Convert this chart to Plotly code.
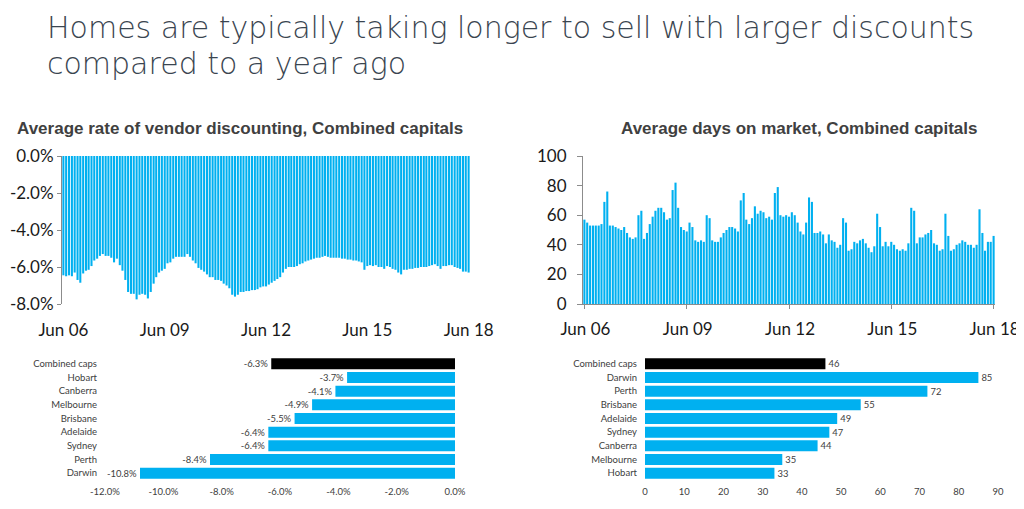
import plotly.graph_objects as go
import pandas as pd

# ---------------- data ----------------
months = pd.date_range("2006-06-01", periods=145, freq="MS")

discount = [
    -6.45, -6.5, -6.45, -6.5, -6.3, -6.7, -6.85, -6.35, -6.2, -6.15,
    -5.95, -5.65, -5.55, -5.4, -5.3, -5.4, -5.4, -5.5, -5.75, -5.55,
    -5.9, -6.2, -6.7, -7.35, -7.45, -7.45, -7.75, -7.5, -7.45, -7.5,
    -7.7, -7.35, -6.9, -6.55, -6.3, -6.2, -6.1, -5.8, -5.75, -5.55,
    -5.45, -5.45, -5.45, -5.45, -5.3, -5.45, -5.65, -5.8, -6.05, -6.15,
    -6.25, -6.4, -6.55, -6.55, -6.7, -6.7, -6.75, -6.9, -7.0, -7.15,
    -7.5, -7.6, -7.5, -7.35, -7.35, -7.3, -7.3, -7.25, -7.25, -7.2,
    -7.1, -7.05, -7.05, -6.95, -6.85, -6.75, -6.65, -6.55, -6.3, -6.1,
    -6.0, -6.0, -6.0, -5.95, -5.85, -5.8, -5.7, -5.65, -5.6, -5.55,
    -5.5, -5.5, -5.45, -5.4, -5.45, -5.5, -5.5, -5.5, -5.5, -5.55,
    -5.55, -5.6, -5.6, -5.65, -5.65, -5.7, -5.75, -6.15, -5.95, -5.9,
    -5.95, -5.9, -6.0, -6.0, -6.1, -5.95, -6.0, -6.1, -6.15, -6.3,
    -6.4, -6.15, -6.15, -6.1, -6.1, -6.05, -6.05, -6.0, -6.0, -6.0,
    -5.95, -5.9, -5.85, -5.95, -6.1, -5.95, -5.95, -5.9, -5.9, -6.0,
    -6.05, -6.1, -6.25, -6.25, -6.3,
]

days = [
    57, 55, 53, 53, 53, 53, 54,
    69, 76,
    53, 53, 52, 51, 50, 52, 48, 45, 44, 45,
    60, 63,
    44, 48, 54, 59, 63, 65, 65, 62, 57, 58,
    77, 82,
    65, 52, 50, 49, 55, 52, 43, 42, 43, 42,
    60, 58,
    43, 42, 42, 45, 48, 50, 52, 52, 51, 49,
    70, 75,
    57, 54, 58, 66, 61, 63, 62, 58, 59, 57,
    75, 79,
    60, 59, 60, 59, 62, 60, 55, 49, 47, 55,
    72, 69,
    48, 48, 49, 47, 41, 47, 43, 42, 38, 40,
    58, 55,
    36, 37, 42, 41, 43, 44, 41, 38, 35, 39,
    61, 52,
    39, 42, 39, 42, 40, 37, 36, 37, 36, 41,
    65, 63,
    41, 45, 45, 47, 48, 50, 41, 40, 36, 37,
    61, 46,
    36, 37, 40, 41, 43, 42, 40, 40, 38, 40,
    64, 48,
    36, 42, 42, 46,
]

x_tick_dates = ["2006-06-01", "2009-06-01", "2012-06-01", "2015-06-01", "2018-06-01"]
x_tick_labels = ["Jun 06", "Jun 09", "Jun 12", "Jun 15", "Jun 18"]

disc_tick_vals = [0, -2, -4, -6, -8]
disc_tick_labels = ["0.0%", "-2.0%", "-4.0%", "-6.0%", "-8.0%"]
days_tick_vals = [0, 20, 40, 60, 80, 100]

city_disc = ["Combined caps", "Hobart", "Canberra", "Melbourne", "Brisbane",
             "Adelaide", "Sydney", "Perth", "Darwin"]
city_disc_vals = [-6.3, -3.7, -4.1, -4.9, -5.5, -6.4, -6.4, -8.4, -10.8]
disc_bar_tick_vals = [-12, -10, -8, -6, -4, -2, 0]
disc_bar_tick_labels = ["-12.0%", "-10.0%", "-8.0%", "-6.0%", "-4.0%", "-2.0%", "0.0%"]

city_days = ["Combined caps", "Darwin", "Perth", "Brisbane", "Adelaide",
             "Sydney", "Canberra", "Melbourne", "Hobart"]
city_days_vals = [46, 85, 72, 55, 49, 47, 44, 35, 33]
days_bar_tick_vals = [0, 10, 20, 30, 40, 50, 60, 70, 80, 90]

# ---------------- style ----------------
BLUE = "#00B0F0"
BLACK = "#000000"
AXIS = "#8C8C8C"
OFF = 8                      # default page margin of the html body
W, H = 1024 - OFF, 509 - OFF


def px_x(x):
    return (x - OFF) / W


def px_y(y):
    return 1 - (y - OFF) / H


top_dom = [px_y(304), px_y(156)]
bot_dom = [px_y(480), px_y(357)]

fig = go.Figure()

fig.add_trace(go.Bar(x=months, y=discount, marker=dict(color=BLUE, line=dict(width=0)),
                     xaxis="x", yaxis="y", showlegend=False))
fig.add_trace(go.Bar(x=months, y=days, marker=dict(color=BLUE, line=dict(width=0)),
                     xaxis="x2", yaxis="y2", showlegend=False))
fig.add_trace(go.Bar(
    x=city_disc_vals, y=city_disc, orientation="h",
    marker=dict(color=[BLACK] + [BLUE] * (len(city_disc) - 1), line=dict(width=0)),
    text=[f"{v:.1f}%" for v in city_disc_vals], textposition="outside",
    textfont=dict(family="Lato", size=9.5, color="#404040"),
    cliponaxis=False, xaxis="x3", yaxis="y3", showlegend=False))
fig.add_trace(go.Bar(
    x=city_days_vals, y=city_days, orientation="h",
    marker=dict(color=[BLACK] + [BLUE] * (len(city_days) - 1), line=dict(width=0)),
    text=[str(v) for v in city_days_vals], textposition="outside",
    textfont=dict(family="Lato", size=9.5, color="#404040"),
    cliponaxis=False, xaxis="x4", yaxis="y4", showlegend=False))

date_range = ["2006-05-17", "2018-06-16"]
tick_font = dict(family="Lato", size=17, color="#1a1a1a")
small_font = dict(family="Lato", size=9.5, color="#404040")

fig.update_layout(
    width=W, height=H, autosize=False,
    margin=dict(l=0, r=0, t=0, b=0, pad=0),
    paper_bgcolor="white", plot_bgcolor="white",
    bargap=0.2,
    xaxis=dict(domain=[px_x(62), px_x(470)], anchor="y", type="date", range=date_range,
               tickvals=x_tick_dates, ticktext=x_tick_labels, showgrid=False,
               showline=False, ticks="", tickfont=tick_font, ticklabelstandoff=14,
               zeroline=False, automargin=False),
    yaxis=dict(domain=top_dom, anchor="x", range=[-8, 0], tickvals=disc_tick_vals,
               ticktext=disc_tick_labels, showgrid=False, zeroline=False,
               showline=True, linecolor=AXIS, linewidth=1, ticks="outside",
               ticklen=4, tickcolor=AXIS, tickfont=tick_font, automargin=False),
    xaxis5=dict(overlaying="x", anchor="y", side="top", type="date", range=date_range,
                tickvals=x_tick_dates, showticklabels=False, showgrid=False,
                showline=True, linecolor=AXIS, linewidth=1, ticks="inside",
                ticklen=3, tickcolor=AXIS, zeroline=False, automargin=False),
    xaxis2=dict(domain=[px_x(583), px_x(995)], anchor="y2", type="date", range=date_range,
                tickvals=x_tick_dates, ticktext=x_tick_labels, showgrid=False,
                showline=True, linecolor=AXIS, linewidth=1, ticks="outside",
                ticklen=4, tickcolor=AXIS, tickfont=tick_font, ticklabelstandoff=6,
                ticklabelshift=1, zeroline=False, automargin=False),
    yaxis2=dict(domain=top_dom, anchor="x2", range=[0, 100], tickvals=days_tick_vals,
                showgrid=False, zeroline=False, showline=True, linecolor=AXIS,
                linewidth=1, ticks="outside", ticklen=5, tickcolor=AXIS,
                tickfont=tick_font, ticklabelstandoff=7, automargin=False),
    xaxis3=dict(domain=[px_x(105), px_x(455)], anchor="y3", range=[-12, 0],
                tickvals=disc_bar_tick_vals, ticktext=disc_bar_tick_labels,
                showgrid=False, zeroline=False, showline=False, ticks="",
                tickfont=small_font, ticklabelstandoff=4, automargin=False),
    yaxis3=dict(domain=bot_dom, anchor="x3", autorange="reversed", showgrid=False,
                zeroline=False, showline=False, ticks="", tickfont=small_font,
                ticklabelstandoff=7, automargin=False),
    xaxis4=dict(domain=[px_x(645), px_x(998)], anchor="y4", range=[0, 90],
                tickvals=days_bar_tick_vals, showgrid=False, zeroline=False,
                showline=False, ticks="", tickfont=small_font, ticklabelstandoff=4,
                automargin=False),
    yaxis4=dict(domain=bot_dom, anchor="x4", autorange="reversed", showgrid=False,
                zeroline=False, showline=False, ticks="", tickfont=small_font,
                ticklabelstandoff=7, automargin=False),
)

title_font = dict(family="DejaVu Sans", size=30, color="#3A4550", weight=200)
sub_font = dict(family="Liberation Sans", size=17, color="#404040", weight="bold")

annotations = [
    dict(text="Homes are typically taking longer to sell with larger discounts",
         x=px_x(45), y=px_y(28), xanchor="left", yanchor="middle",
         xref="paper", yref="paper", showarrow=False, font=title_font),
    dict(text="compared to a year ago",
         x=px_x(45), y=px_y(63), xanchor="left", yanchor="middle",
         xref="paper", yref="paper", showarrow=False, font=title_font),
    dict(text="Average rate of vendor discounting, Combined capitals",
         x=px_x(240), y=px_y(129), xanchor="center", yanchor="middle",
         xref="paper", yref="paper", showarrow=False, font=sub_font),
    dict(text="Average days on market, Combined capitals",
         x=px_x(799), y=px_y(129), xanchor="center", yanchor="middle",
         xref="paper", yref="paper", showarrow=False, font=sub_font),
]
fig.update_layout(annotations=annotations)

fig.write_html("out.html")
